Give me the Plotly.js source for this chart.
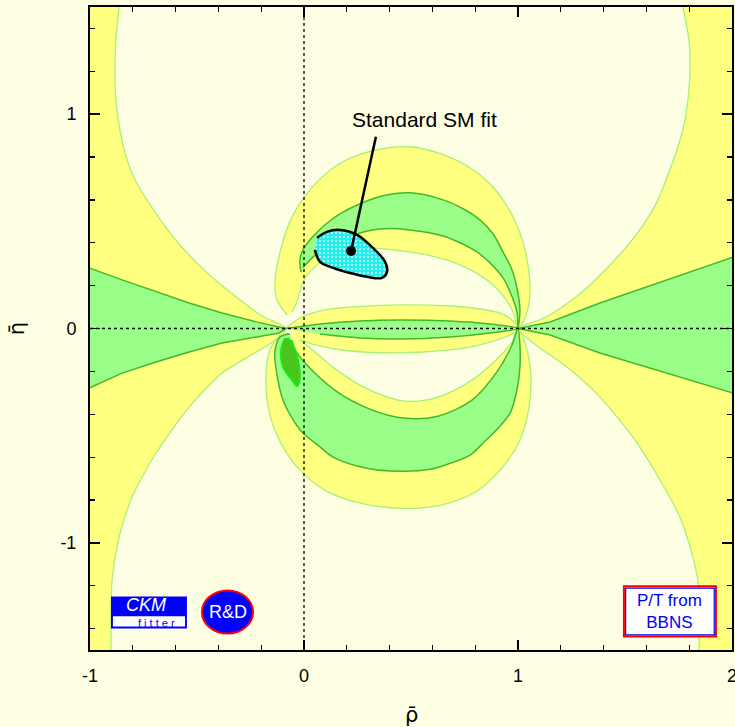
<!DOCTYPE html>
<html>
<head>
<meta charset="utf-8">
<script src="https://cdn.plot.ly/plotly-3.0.1.min.js"></script>
<style>
  html, body { margin: 0; padding: 0; background: #fefee2; }
  #chart { width: 735px; height: 727px; }
</style>
</head>
<body>
<div id="chart"></div>
<script>
// ---- axis ticks ----
const rhoTicks = [-1, 0, 1, 2];
const rhoTickText = ['-1', '0', '1', '2'];
const etaTicks = [-1, 0, 1];
const etaTickText = ['-1', '0', '1'];

// ---- 95% CL (yellow) regions: contour boundaries in (rho, eta) ----
const leftOuterRho = [-1.2, -0.835, -0.850, -0.864, -0.879, -0.883, -0.879, -0.860, -0.827, -0.790, -0.734, -0.664, -0.589, -0.505, -0.416, -0.299, -0.196, -0.084, -0.154, -0.271, -0.383, -0.537, -0.692, -0.804, -0.864, -0.897, -0.902, -0.903, -0.900, -1.2];
const leftOuterEta = [1.8, 1.8, 1.65, 1.502, 1.348, 1.208, 1.068, 0.927, 0.787, 0.694, 0.600, 0.498, 0.400, 0.311, 0.227, 0.133, 0.058, 0, -0.068, -0.138, -0.208, -0.367, -0.582, -0.787, -0.974, -1.175, -1.488, -1.65, -1.8, -1.8];

const rightOuterRho = [2.2, 1.730, 1.750, 1.771, 1.799, 1.804, 1.794, 1.776, 1.743, 1.701, 1.654, 1.579, 1.495, 1.421, 1.327, 1.220, 1.103, 1.0, 1.103, 1.229, 1.383, 1.537, 1.664, 1.757, 1.818, 1.850, 1.846, 1.843, 1.840, 2.2];
const rightOuterEta = [1.8, 1.8, 1.65, 1.502, 1.348, 1.208, 1.068, 0.951, 0.834, 0.717, 0.600, 0.474, 0.367, 0.287, 0.194, 0.110, 0.040, 0, -0.091, -0.180, -0.320, -0.507, -0.708, -0.881, -1.068, -1.255, -1.488, -1.65, -1.8, -1.8];

const lensYellowRho = [-0.084, -0.019, 0.098, 0.215, 0.449, 0.682, 0.822, 0.916, 0.972, 1.0, 0.972, 0.916, 0.799, 0.682, 0.449, 0.215, 0.075, -0.019];
const lensYellowEta = [0, 0.049, 0.087, 0.100, 0.110, 0.105, 0.091, 0.072, 0.040, 0, -0.026, -0.049, -0.082, -0.100, -0.114, -0.105, -0.082, -0.054];

const upperYellowRho = [-0.079, -0.126, -0.136, -0.112, -0.051, 0.061, 0.182, 0.341, 0.495, 0.650, 0.752, 0.822, 0.902, 0.977, 1.033, 1.056, 1.051, 1.023, 1.0, 0.977, 0.939, 0.883, 0.813, 0.729, 0.575, 0.416, 0.262, 0.107, 0.028, -0.005, -0.033, -0.056];
const upperYellowEta = [0.063, 0.133, 0.203, 0.357, 0.530, 0.684, 0.778, 0.834, 0.848, 0.811, 0.764, 0.717, 0.638, 0.521, 0.367, 0.203, 0.110, 0.030, 0, 0.077, 0.142, 0.203, 0.255, 0.297, 0.343, 0.367, 0.376, 0.329, 0.264, 0.217, 0.124, 0.077];

const lowerYellowRho = [-0.075, -0.112, -0.159, -0.178, -0.159, -0.103, -0.019, 0.098, 0.262, 0.449, 0.636, 0.799, 0.916, 1.009, 1.056, 1.056, 1.028, 1.0, 0.972, 0.907, 0.785, 0.626, 0.472, 0.318, 0.159, 0.051, -0.019];
const lowerYellowEta = [-0.021, -0.035, -0.100, -0.241, -0.404, -0.544, -0.661, -0.755, -0.815, -0.839, -0.825, -0.764, -0.661, -0.521, -0.334, -0.171, -0.054, 0, -0.063, -0.138, -0.241, -0.320, -0.339, -0.292, -0.199, -0.110, -0.054];

// ---- 68% CL (green) regions ----
const leftWedgeRho = [-1.2, -1.005, -0.850, -0.692, -0.537, -0.383, -0.224, -0.117, -0.084, -0.117, -0.224, -0.383, -0.537, -0.692, -0.850, -1.005, -1.2];
const leftWedgeEta = [0.37, 0.283, 0.227, 0.171, 0.119, 0.072, 0.031, 0.007, 0, -0.021, -0.040, -0.068, -0.110, -0.156, -0.208, -0.278, -0.35];

const rightWedgeRho = [1.0, 1.150, 1.383, 1.696, 1.991, 2.2, 2.2, 1.991, 1.696, 1.383, 1.150, 1.0];
const rightWedgeEta = [0, 0.030, 0.119, 0.227, 0.329, 0.40, -0.36, -0.297, -0.208, -0.114, -0.030, 0];

const lensGreenRho = [-0.084, 0.075, 0.262, 0.449, 0.682, 0.869, 1.0, 0.869, 0.682, 0.449, 0.262, 0.075];
const lensGreenEta = [0, 0.021, 0.035, 0.040, 0.035, 0.021, 0, -0.021, -0.040, -0.049, -0.044, -0.026];

const upperGreenRho = [-0.014, -0.019, -0.005, 0.037, 0.098, 0.168, 0.262, 0.369, 0.495, 0.650, 0.752, 0.822, 0.883, 0.930, 0.972, 0.995, 1.009, 1.0, 0.995, 0.963, 0.930, 0.869, 0.808, 0.729, 0.650, 0.495, 0.369, 0.262, 0.168, 0.084, 0.028, -0.005];
const upperGreenEta = [0.264, 0.320, 0.367, 0.423, 0.484, 0.535, 0.582, 0.619, 0.633, 0.600, 0.554, 0.507, 0.442, 0.357, 0.273, 0.189, 0.086, 0, 0.077, 0.171, 0.236, 0.306, 0.357, 0.400, 0.432, 0.460, 0.465, 0.446, 0.414, 0.367, 0.320, 0.283];

const lowerGreenRho = [-0.065, -0.112, -0.136, -0.126, -0.098, -0.056, -0.005, 0.065, 0.136, 0.294, 0.449, 0.589, 0.682, 0.776, 0.836, 0.907, 0.963, 0.995, 1.009, 1.009, 1.0, 0.972, 0.907, 0.785, 0.626, 0.463, 0.308, 0.150, 0.005, -0.042, -0.056];
const lowerGreenEta = [-0.026, -0.040, -0.110, -0.217, -0.334, -0.418, -0.488, -0.544, -0.600, -0.652, -0.666, -0.657, -0.629, -0.591, -0.535, -0.465, -0.395, -0.287, -0.180, -0.077, 0, -0.077, -0.194, -0.334, -0.409, -0.418, -0.376, -0.292, -0.161, -0.100, -0.054];

const innerCoreRho = [-0.089, -0.107, -0.098, -0.056, -0.033, -0.023, -0.019, -0.028, -0.051, -0.075];
const innerCoreEta = [-0.044, -0.100, -0.180, -0.241, -0.269, -0.255, -0.208, -0.147, -0.077, -0.044];

// ---- standard SM fit ----
const smFitRho = [0.061, 0.107, 0.168, 0.248, 0.322, 0.379, 0.388, 0.364, 0.294, 0.215, 0.136, 0.075, 0.051];
const smFitEta = [0.423, 0.451, 0.460, 0.437, 0.376, 0.311, 0.264, 0.236, 0.241, 0.259, 0.283, 0.311, 0.367];
const smBestRho = [0.220];
const smBestEta = [0.362];
const smLabelRho = [0.336];
const smLabelEta = [0.895];

// ---- colours ----
const CREAM = '#fefee2';
const YELLOW = '#ffff80';
const YELLOW_EDGE = '#a8f07a';
const GREEN = '#99ff88';
const GREEN_EDGE = '#44b82a';

function region(xs, ys, fill, edge, width, shape, smooth) {
  return {
    type: 'scatter', mode: 'lines', x: xs, y: ys,
    fill: 'toself', fillcolor: fill,
    line: { color: edge, width: width, shape: shape || 'spline', smoothing: smooth || 0.9 },
    hoverinfo: 'skip', showlegend: false
  };
}

const traces = [
  region(leftOuterRho, leftOuterEta, YELLOW, YELLOW_EDGE, 1.3, 'spline', 0.7),
  region(rightOuterRho, rightOuterEta, YELLOW, YELLOW_EDGE, 1.3, 'spline', 0.7),
  region(lensYellowRho, lensYellowEta, YELLOW, YELLOW_EDGE, 1.3),
  region(upperYellowRho, upperYellowEta, YELLOW, YELLOW_EDGE, 1.3),
  region(lowerYellowRho, lowerYellowEta, YELLOW, YELLOW_EDGE, 1.3),
  region(leftWedgeRho, leftWedgeEta, GREEN, GREEN_EDGE, 1.5, 'linear'),
  region(rightWedgeRho, rightWedgeEta, GREEN, GREEN_EDGE, 1.5, 'linear'),
  region(lensGreenRho, lensGreenEta, GREEN, GREEN_EDGE, 1.5),
  region(upperGreenRho, upperGreenEta, GREEN, GREEN_EDGE, 1.5),
  region(lowerGreenRho, lowerGreenEta, GREEN, GREEN_EDGE, 1.5),
  region(innerCoreRho, innerCoreEta, '#4cc41e', '#11ee11', 1.8),
  {
    type: 'scatter', mode: 'lines', x: smFitRho, y: smFitEta,
    fill: 'toself', fillcolor: '#22eeee',
    fillpattern: { shape: '.', fgcolor: '#b0ffff', bgcolor: '#22eeee', size: 4, solidity: 0.25 },
    line: { color: '#000000', width: 2.5, shape: 'spline', smoothing: 1 },
    hoverinfo: 'skip', showlegend: false
  },
  {
    type: 'scatter', mode: 'lines',
    x: [smBestRho[0], smLabelRho[0]], y: [smBestEta[0], smLabelEta[0]],
    line: { color: '#000000', width: 2.5 }, hoverinfo: 'skip', showlegend: false
  },
  {
    type: 'scatter', mode: 'markers', x: smBestRho, y: smBestEta,
    marker: { color: '#000000', size: 10 }, hoverinfo: 'skip', showlegend: false
  }
];

const FONT = 'Liberation Sans, Arial, sans-serif';
const SYMBOL_FONT = 'DejaVu Sans, sans-serif';

const axisCommon = {
  ticks: 'inside', ticklen: 10, tickwidth: 1.5, tickcolor: '#000',
  showline: true, linewidth: 2, linecolor: '#000', mirror: 'ticks',
  showgrid: false, zeroline: false, fixedrange: true,
  tickfont: { family: FONT, size: 18, color: '#000' },
  ticklabelstandoff: 8,
  ticklabeloverflow: 'allow',
  minor: { dtick: 0.2, ticks: 'inside', ticklen: 5, tickwidth: 1.2, tickcolor: '#000', showgrid: false }
};

const layout = {
  width: 735, height: 727,
  margin: { l: 90, r: 3, t: 7, b: 77 },
  paper_bgcolor: CREAM, plot_bgcolor: CREAM,
  showlegend: false, hovermode: false,
  xaxis: Object.assign({}, axisCommon, { range: [-1, 2], tickvals: rhoTicks, ticktext: rhoTickText }),
  yaxis: Object.assign({}, axisCommon, { range: [-1.5, 1.5], tickvals: etaTicks, ticktext: etaTickText }),
  shapes: [
    { type: 'line', xref: 'x', yref: 'paper', x0: 0, x1: 0, y0: 0, y1: 1,
      line: { color: '#000', width: 1.3, dash: 'dot' } },
    { type: 'line', xref: 'paper', yref: 'y', x0: 0, x1: 1, y0: 0, y1: 0,
      line: { color: '#000', width: 1.3, dash: 'dot' } },
    // CKMfitter badge
    { type: 'rect', xref: 'x', yref: 'y', x0: -0.902, x1: -0.547, y0: -1.400, y1: -1.250,
      fillcolor: '#0000ff', line: { width: 0 } },
    { type: 'rect', xref: 'x', yref: 'y', x0: -0.893, x1: -0.556, y0: -1.390, y1: -1.343,
      fillcolor: '#ffffff', line: { width: 0 } },
    // R&D badge
    { type: 'circle', xref: 'x', yref: 'y', x0: -0.477, x1: -0.238, y0: -1.423, y1: -1.222,
      fillcolor: '#0000ff', line: { color: '#ff0000', width: 2 } },
    // P/T box
    { type: 'rect', xref: 'x', yref: 'y', x0: 1.495, x1: 1.925, y0: -1.437, y1: -1.203,
      fillcolor: '#ffffff', line: { color: '#ff0000', width: 2 } },
    { type: 'rect', xref: 'x', yref: 'y', x0: 1.503, x1: 1.917, y0: -1.429, y1: -1.211,
      fillcolor: 'rgba(0,0,0,0)', line: { color: '#0000ff', width: 1.2 } }
  ],
  annotations: [
    { xref: 'x', yref: 'y', x: 0.565, y: 0.974, text: 'Standard SM fit', showarrow: false,
      font: { family: FONT, size: 21, color: '#000' } },
    { xref: 'x', yref: 'y', x: -0.738, y: -1.292, text: '<i>CKM</i>', showarrow: false,
      font: { family: FONT, size: 18, color: '#ffffff' } },
    { xref: 'x', yref: 'y', x: -0.687, y: -1.374, text: 'f i t t e r', showarrow: false,
      font: { family: FONT, size: 11, color: '#0000ff' } },
    { xref: 'x', yref: 'y', x: -0.357, y: -1.322, text: 'R&amp;D', showarrow: false,
      font: { family: FONT, size: 18, color: '#ffffff' } },
    { xref: 'x', yref: 'y', x: 1.710, y: -1.320, text: 'P/T from<br>BBNS', showarrow: false,
      font: { family: FONT, size: 17, color: '#0000ff' } },
    { xref: 'paper', yref: 'paper', x: 0.5, y: -0.101, text: '\u03c1\u0304', showarrow: false,
      yanchor: 'middle', font: { family: SYMBOL_FONT, size: 21, color: '#000' } },
    { xref: 'paper', yref: 'paper', x: -0.114, y: 0.5, text: '\u03b7\u0304', showarrow: false,
      textangle: -90, xanchor: 'center', yanchor: 'middle', font: { family: SYMBOL_FONT, size: 21, color: '#000' } }
  ]
};

Plotly.newPlot('chart', traces, layout, { staticPlot: true, displayModeBar: false });
</script>
</body>
</html>
